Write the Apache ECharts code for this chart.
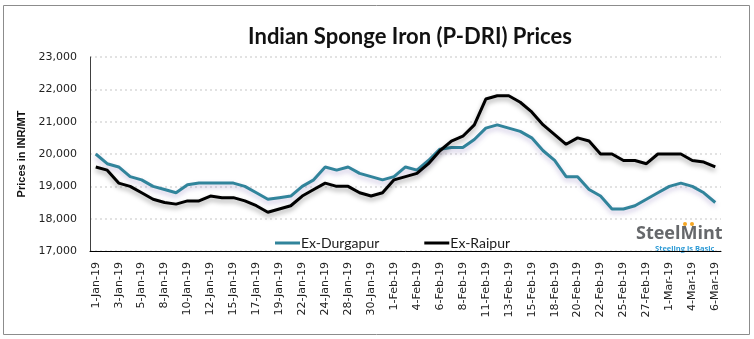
<!DOCTYPE html>
<html>
<head>
<meta charset="utf-8">
<script src="https://cdn.jsdelivr.net/npm/echarts@6/dist/echarts.min.js"></script>
<style>
html,body{margin:0;padding:0;background:#fff;}
#chart{width:754px;height:339px;}
</style>
</head>
<body>
<div id="chart"></div>
<script>
const categories = ['1-Jan-19','2-Jan-19','3-Jan-19','4-Jan-19','5-Jan-19','7-Jan-19','8-Jan-19','9-Jan-19','10-Jan-19','11-Jan-19','12-Jan-19','14-Jan-19','15-Jan-19','16-Jan-19','17-Jan-19','18-Jan-19','19-Jan-19','21-Jan-19','22-Jan-19','23-Jan-19','24-Jan-19','25-Jan-19','28-Jan-19','29-Jan-19','30-Jan-19','31-Jan-19','1-Feb-19','2-Feb-19','4-Feb-19','5-Feb-19','6-Feb-19','7-Feb-19','8-Feb-19','9-Feb-19','11-Feb-19','12-Feb-19','13-Feb-19','14-Feb-19','15-Feb-19','16-Feb-19','18-Feb-19','19-Feb-19','20-Feb-19','21-Feb-19','22-Feb-19','23-Feb-19','25-Feb-19','26-Feb-19','27-Feb-19','28-Feb-19','1-Mar-19','2-Mar-19','4-Mar-19','5-Mar-19','6-Mar-19'];
const durgapur = [20000,19700,19600,19300,19200,19000,18900,18800,19050,19100,19100,19100,19100,19000,18800,18600,18650,18700,19000,19200,19600,19500,19600,19400,19300,19200,19300,19600,19500,19800,20150,20200,20200,20450,20800,20900,20800,20700,20500,20100,19800,19300,19300,18900,18700,18300,18300,18400,18600,18800,19000,19100,19000,18800,18500];
const raipur = [19600,19500,19100,19000,18800,18600,18500,18450,18550,18550,18700,18650,18650,18550,18400,18200,18300,18400,18700,18900,19100,19000,19000,18800,18700,18800,19200,19300,19400,19700,20100,20400,20550,20900,21700,21800,21800,21600,21300,20900,20600,20300,20500,20400,20000,20000,19800,19800,19700,20000,20000,20000,19800,19750,19600];
const yTicks = [17000,18000,19000,20000,21000,22000,23000];

const chart = echarts.init(document.getElementById('chart'), null, {renderer:'canvas'});
chart.setOption({
  backgroundColor:'#fff',
  animation:false,
  title:{
    text:'Indian Sponge Iron (P-DRI) Prices',
    left:405, top:21, textAlign:'center',
    textStyle:{fontFamily:'Lato', fontWeight:'bold', fontSize:22, color:'#111'}
  },
  grid:{left:90, right:33, top:57, bottom:88, containLabel:false},
  legend:{
    left:270, top:231,
    itemWidth:25, itemHeight:3, itemGap:45,
    icon:'rect',
    textStyle:{fontFamily:'Lato', fontSize:14, color:'#1a1a1a', padding:[0,0,0,-4]},
    data:['Ex-Durgapur','Ex-Raipur']
  },
  xAxis:{
    type:'category', data:categories, boundaryGap:true,
    axisLine:{lineStyle:{color:'#000', width:1}},
    axisTick:{show:false},
    axisLabel:{interval:1, rotate:90, margin:11, fontFamily:'DejaVu Sans', fontSize:11, color:'#222'}
  },
  yAxis:{
    type:'value', min:yTicks[0], max:yTicks[yTicks.length-1], interval:1000,
    name:'Prices in INR/MT', nameLocation:'middle', nameGap:62, nameRotate:90,
    nameTextStyle:{fontFamily:'Liberation Sans', fontWeight:'bold', fontSize:11, color:'#111'},
    axisLine:{show:true, lineStyle:{color:'#404040', width:1}},
    axisTick:{show:false},
    splitLine:{lineStyle:{color:'#d9d9d9', type:[2,3], width:1.5}},
    axisLabel:{margin:13, fontFamily:'DejaVu Sans', fontSize:11, color:'#222',
      formatter:v=>v.toLocaleString('en-US')}
  },
  series:[
    {name:'Ex-Durgapur', type:'line', data:durgapur, showSymbol:false, symbol:'none',
     color:'#31849B',
     lineStyle:{width:3, color:'#31849B', shadowColor:'rgba(110,90,170,0.35)', shadowBlur:5, shadowOffsetY:3}},
    {name:'Ex-Raipur', type:'line', data:raipur, showSymbol:false, symbol:'none',
     color:'#000',
     lineStyle:{width:3, color:'#000', shadowColor:'rgba(0,0,0,0.35)', shadowBlur:5, shadowOffsetY:3}}
  ],
  graphic:[
    {type:'rect', shape:{x:3.5, y:5.5, width:746, height:329}, style:{fill:'none', stroke:'#8c8c8c', lineWidth:1}, silent:true, z:-1},
    {type:'text', left:636, top:225, style:{text:'SteelMint', fontFamily:'Open Sans', fontWeight:'bold', fontSize:18, fill:'#66686b'}},
    {type:'text', left:655, top:245, style:{text:'Steeling is Basic', fontFamily:'Open Sans', fontWeight:'bold', fontSize:7.5, fill:'#2e9bd6'}},
    {type:'circle', shape:{cx:685, cy:224, r:2}, style:{fill:'#f5a623'}},
    {type:'circle', shape:{cx:692, cy:224, r:2}, style:{fill:'#f5a623'}}
  ]
});
</script>
</body>
</html>
